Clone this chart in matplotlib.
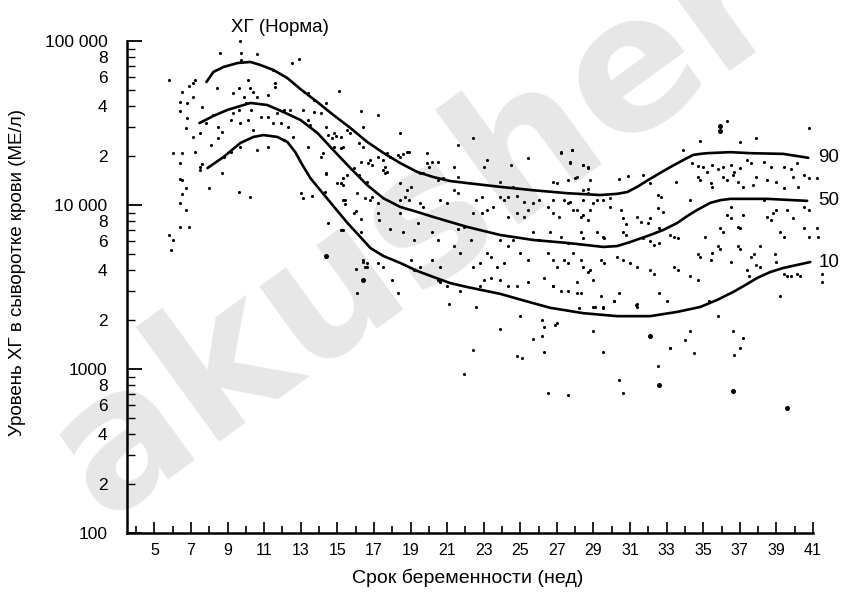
import math
import matplotlib
matplotlib.use('Agg')
import matplotlib.pyplot as plt
from matplotlib.ticker import FixedLocator, FuncFormatter

plt.rcParams['font.family'] = ['Liberation Sans', 'DejaVu Sans']

# ---- percentile curves (weeks, IU/l) ----
p90_weeks = [7.84, 8.22, 8.77, 9.54, 10.25, 10.79, 11.50, 12.27, 12.98, 13.91, 14.78, 15.71, 16.64,
             17.51, 18.44, 19.37, 20.25, 21.17, 22.10, 23.91, 25.71, 27.57, 29.37, 30.30, 30.85,
             31.39, 31.99, 32.65, 33.31, 33.91, 34.45, 34.84, 35.22, 36.48, 37.57, 39.37, 40.74]
p90_vals = [56200, 64700, 69400, 73400, 74500, 71400, 66600, 59400, 50900, 42400, 35400, 29500, 24200,
            20800, 18000, 15900, 14800, 14000, 13600, 12900, 12300, 11800, 11500, 11700, 12000,
            12900, 14200, 15700, 17300, 18800, 20200, 20500, 20700, 21000, 20700, 20500, 19400]

p50_weeks = [7.46, 8.22, 8.99, 10.25, 11.17, 12.05, 12.98, 13.91, 14.78, 15.71, 16.64, 17.51, 18.44,
             19.37, 20.25, 21.17, 22.10, 23.91, 25.71, 27.57, 29.54, 30.30, 31.01, 32.10, 32.81,
             33.58, 34.13, 34.67, 35.38, 35.93, 36.48, 38.50, 40.68]
p50_vals = [31600, 34900, 38000, 41900, 40700, 36900, 33000, 27500, 21600, 16800, 13200, 11000, 9730,
            9070, 8450, 7880, 7350, 6560, 6120, 5870, 5550, 5620, 5950, 6560, 7040,
            7770, 8570, 9330, 10300, 10700, 10900, 10900, 10600]

p10_weeks = [7.90, 8.77, 9.70, 10.41, 10.96, 11.72, 12.27, 12.70, 13.03, 13.52, 14.07, 14.78, 15.55,
             16.26, 16.80, 17.51, 18.44, 19.37, 20.25, 21.17, 22.10, 23.91, 25.27, 26.64, 28.44,
             30.30, 32.10, 33.58, 34.84, 35.77, 36.64, 37.30, 37.95, 38.66, 39.37, 40.85]
p10_vals = [16800, 19600, 23900, 26000, 26700, 26000, 24200, 21000, 18000, 14600, 12300, 9860, 7770,
            6380, 5470, 4890, 4430, 3960, 3640, 3340, 3160, 2870, 2600, 2360, 2190,
            2100, 2100, 2230, 2390, 2640, 2950, 3250, 3590, 3900, 4130, 4490]

curve_labels = ['90', '50', '10']

# ---- individual measurements (weeks, IU/l) ----
dots_weeks = [
    9.7, 8.6, 9.75, 10.6, 9.75, 5.8, 6.5, 6.4, 6.9, 7.1, 7.2, 8.4, 9.3, 9.6, 10.1, 10.25, 10.4, 9.9, 11.2,
    11.6, 11.6, 10.6, 7.1, 7.6, 6.8, 6.4, 6.8, 6.7, 7.1, 6.5, 6.0, 7.2, 7.5, 7.5, 7.8, 8.2, 8.5, 8.7, 8.5,
    8.1, 9.2, 9.3, 9.6, 10.0, 10.3, 9.7, 10.1, 10.4, 10.8, 11.2, 11.5, 11.7, 12.1, 12.4, 11.9, 12.3, 12.6,
    12.1, 11.2, 10.6, 9.7, 9.2, 8.8, 8.7, 8.0, 9.6, 10.2, 11.5, 12.5, 12.9, 6.4, 6.5, 6.7, 6.4, 6.7, 6.4,
    6.9, 5.8, 6.0, 5.9, 7.6, 7.5, 6.4, 6.5,
    # 13-20 weeks
    15.1, 17.2, 16.3, 13.4, 13.7, 13.1, 13.7, 14.1, 14.4, 13.4, 13.5, 14.4, 14.8, 15.2, 14.5, 14.7, 14.9,
    14.8, 15.2, 15.3, 14.1, 14.2, 13.4, 14.4, 15.0, 15.3, 15.5, 16.3, 16.7, 16.8, 16.9, 17.5, 17.6, 17.7,
    16.6, 16.5, 16.8, 16.9, 17.2, 16.1, 18.4, 18.9, 18.4, 18.6, 19.9, 20.5, 16.2, 16.4, 15.5, 15.7, 16.4,
    17.7, 17.9, 17.2, 17.5, 17.6, 18.3, 18.8, 19.7, 19.9,
    13.0, 13.1, 13.6, 14.3, 14.4, 15.2, 15.3, 15.9, 16.2, 15.4, 15.4, 16.0, 16.3, 14.5, 15.3, 16.4, 16.5,
    16.6, 16.4, 16.0, 16.1,
    # 18-30 weeks
    21.6, 22.4, 21.4, 23.0, 23.2, 24.5, 25.4, 27.2, 27.8, 27.7, 28.4, 28.7, 28.1, 28.8, 23.9, 24.6, 27.0,
    27.6, 18.4, 19.0, 18.8, 19.5, 20.0, 20.2, 20.5, 20.8, 21.6, 18.4, 18.7, 18.9, 18.4, 19.5, 19.7, 20.6,
    21.0, 21.4, 21.6, 22.6, 22.9, 22.4, 22.9, 23.2, 23.5, 23.9, 24.1, 24.3, 24.8, 25.2, 25.4, 25.7, 26.0,
    26.5, 26.8, 27.6, 27.9, 28.4, 28.7, 29.0, 28.3, 28.7, 24.8, 25.2, 24.3, 18.6, 19.4, 19.2, 20.2, 20.5,
    19.0, 20.2, 20.6, 21.6, 21.9, 21.4, 21.7, 22.3, 22.4, 22.8, 23.2, 23.4, 23.0, 23.4, 23.9, 24.3, 23.7,
    24.1, 24.6, 25.0, 25.4, 25.7, 26.0, 26.5, 26.8, 27.0, 27.6, 27.9, 28.3, 28.7, 29.0, 23.9, 24.3, 24.8,
    25.4, 26.3, 26.8, 27.6, 28.1, 16.4, 16.6, 18.3, 17.2, 17.5, 18.0, 19.2, 19.5, 20.5, 20.6, 21.0, 21.7,
    22.8, 15.2, 16.3, 14.4, 15.9, 15.3, 17.2, 17.3, 17.9,
    # 26-41 weeks
    36.3, 40.8, 34.8, 37.0, 37.9, 27.2, 27.8, 27.7, 28.4, 28.7, 33.9, 34.4, 34.7, 35.0, 35.2, 35.5, 35.8,
    36.1, 36.5, 36.7, 37.0, 37.4, 37.6, 38.3, 38.7, 39.4, 39.8, 40.1, 40.5, 40.8, 41.2, 34.7, 34.8, 35.4,
    35.5, 36.1, 36.3, 36.6, 36.9, 37.2, 37.7, 37.9, 38.5, 39.0, 39.4, 39.9, 40.2, 31.7, 30.9, 30.4, 28.4,
    28.7, 29.2, 29.5, 29.9, 26.8, 28.0, 32.1, 32.5, 32.7, 32.5, 33.5, 32.8, 34.3, 32.1, 32.6, 27.4, 27.7,
    26.8, 27.1, 28.1, 28.4, 28.8, 29.9, 30.5, 30.6, 30.8, 31.4, 31.6, 32.0, 26.6, 27.2, 28.3, 28.4, 29.2,
    29.5, 29.6, 30.6, 30.8, 31.7, 33.2, 33.4, 33.6, 32.6, 32.1, 32.3, 35.1, 35.9, 36.1, 36.9, 37.0, 38.8,
    39.0, 39.2, 39.4, 38.3, 38.5, 38.7, 39.6, 39.9, 40.5, 40.8, 40.5, 40.8, 41.2, 41.3, 36.5, 36.3, 36.5,
    37.2, 35.8, 35.9, 36.9, 37.0, 37.6, 37.8, 38.1, 37.9, 38.1, 38.9, 39.0, 39.4, 39.6, 39.8, 40.1, 40.3,
    39.2, 41.5, 41.5, 36.5, 37.4, 37.5, 34.7, 34.8, 35.5, 35.4, 33.4, 33.6, 32.1, 32.3, 34.3, 34.7, 31.0,
    31.4, 30.3, 30.6, 29.4, 29.6, 28.4, 28.8, 27.4, 27.6, 26.8, 27.2, 28.1, 28.3, 29.4, 30.1, 30.4, 31.4,
    32.6, 33.0, 35.3, 29.0, 29.5, 31.4, 35.8, 27.0, 29.0, 34.3, 34.0, 36.6, 37.2, 37.0, 33.2,
    # low values
    29.5, 33.2, 34.5, 36.7, 32.5, 30.4, 27.6, 30.6, 21.1, 22.6, 25.0, 26.2, 26.3, 26.9, 23.9, 25.7, 26.2,
    28.2, 29.1, 29.5, 30.1, 31.3, 22.4, 26.3, 24.8, 25.1, 21.9, 26.5,
]
dots_vals = [
    100000, 84600, 84600, 83000, 77000, 58000, 49000, 42500, 53000, 55500, 58000, 52000, 48000, 52000,
    58000, 52000, 49000, 45500, 47000, 55500, 52500, 45500, 45500, 39600, 41900, 37400, 34000, 29500,
    26000, 20800, 20800, 21000, 17000, 27500, 31600, 35500, 29800, 27900, 25600, 23200, 33000, 36400,
    38000, 41900, 38000, 31600, 33000, 28700, 34400, 34400, 31600, 36400, 38000, 38000, 31600, 29800,
    26000, 24900, 22600, 21700, 22600, 21000, 19600, 15700, 12700, 12000, 11200, 66500, 73400, 77600,
    18100, 14200, 12700, 10300, 9300, 7300, 7300, 6600, 6100, 5300, 17800, 16300, 14400, 11700,
    # 13-20 weeks
    49600, 35500, 37400, 48200, 43700, 38000, 36900, 36400, 41900, 33000, 30800, 29800, 27500, 26000,
    26800, 25600, 26400, 22600, 22300, 22600, 19600, 20800, 22600, 15700, 13600, 13200, 15200, 18300,
    18100, 18800, 17600, 16400, 15700, 16000, 13800, 11100, 10700, 11200, 10300, 11800, 27500, 21000,
    19600, 20500, 18100, 18300, 23900, 22600, 28700, 27500, 29800, 20800, 19600, 19600, 18800, 17100,
    20200, 21000, 15700, 20800,
    11800, 11000, 11400, 12000, 15500, 13600, 14600, 16800, 15200, 10700, 10200, 9200, 8200, 7800, 7000,
    4500, 4200, 4400, 3500, 4100, 2900,
    # 18-30 weeks
    23200, 25600, 17100, 17100, 18800, 17600, 19300, 20800, 21700, 18100, 17600, 17100, 14900, 14200,
    13800, 12900, 13600, 14200, 13600, 12900, 12400, 15700, 17100, 18300, 14200, 14600, 14900, 10700,
    11200, 10700, 8900, 10300, 9700, 10700, 10300, 12300, 11800, 10700, 11200, 8900, 8900, 9300, 9700,
    11200, 10700, 11200, 11400, 10500, 9300, 10300, 10700, 9700, 10700, 10300, 9300, 10700, 11800,
    10300, 8500, 8100, 8900, 8500, 8500, 6800, 7800, 6100, 6800, 6100, 4600, 4600, 4200, 7100, 7300,
    5600, 5100, 6100, 4200, 4400, 5100, 4800, 3500, 3600, 6100, 5600, 4200, 4400, 6100, 5100, 4600,
    6800, 6100, 5100, 4600, 4200, 5900, 5100, 4600, 3900, 3500, 3500, 3200, 3200, 3400, 3600, 3200,
    3000, 2900, 4600, 4200, 2900, 4400, 4200, 3500, 4000, 4200, 3500, 3400, 3200, 3000, 3200, 7000,
    6800, 4800, 8900, 10700, 8900, 8100, 7100,
    # 26-41 weeks
    32500, 29500, 24600, 24300, 25600, 21000, 21700, 18300, 17600, 16900, 21700, 18100, 17300, 17100,
    15900, 17600, 16500, 17100, 17600, 15900, 16900, 18800, 18100, 18300, 17100, 17100, 16500, 18100,
    15200, 14600, 14600, 14900, 14200, 13600, 12900, 14900, 14200, 15200, 13800, 12900, 13200, 14900,
    14200, 13800, 12700, 14900, 12900, 15200, 15000, 14400, 12400, 12600, 10700, 10700, 11000, 13800,
    14700, 13600, 11500, 11200, 9600, 13800, 9100, 10700, 8300, 7200, 10700, 10500, 8900, 8500, 9300,
    8700, 9300, 9700, 9300, 8300, 7700, 8500, 7900, 7800, 6800, 6400, 6800, 6300, 6800, 6400, 6300,
    6800, 6600, 6300, 6600, 6400, 6300, 5900, 6000, 5700, 6400, 7200, 6800, 7300, 7200, 8900, 9300,
    6800, 6400, 10700, 8500, 8100, 9300, 8300, 9700, 9300, 7200, 6400, 7200, 6400, 9700, 8700, 8300,
    8700, 5600, 5400, 5600, 5400, 4800, 5000, 5600, 4300, 4200, 5000, 4500, 3800, 3700, 3700, 3800,
    3700, 2800, 3800, 3400, 4500, 4000, 3700, 5000, 4800, 5100, 4600, 4200, 4000, 4000, 3800, 3700,
    3500, 4400, 4200, 4800, 4600, 4600, 4400, 4200, 4000, 4600, 4400, 3200, 3000, 3400, 2900, 2800,
    2600, 2900, 2500, 2900, 2600, 2600, 2400, 2400, 2400, 2100, 1900, 1700, 1700, 1500, 1700, 1550,
    1350, 1350,
    # low values
    1270, 1340, 1250, 1220, 1050, 860, 690, 710, 2500, 2400, 2100, 2000, 1800, 1850, 1750, 1530, 1600,
    2350, 2400, 2350, 2600, 2450, 1300, 1270, 1200, 1160, 930, 710,
]

# a few heavier dots
big_weeks = [35.9, 35.9, 32.6, 36.6, 39.6, 32.1, 14.4, 16.4]
big_vals = [30300, 28300, 800, 730, 580, 1600, 4900, 3500]

x_major = list(range(5, 42, 2))
x_minor = list(range(4, 41, 2))
y_major = [100, 1000, 10000, 100000]
y_major_labels = ['100', '1000', '10 000', '100 000']

title = 'ХГ (Норма)'
xlabel = 'Срок беременности (нед)'
ylabel = 'Уровень ХГ в сыворотке крови (МЕ/л)'

fig = plt.figure(figsize=(8.42, 5.96), dpi=100)
fig.patch.set_facecolor('white')

# watermark (behind the chart)
fig.text(0.495, 0.615, 'akusher', rotation=36, fontsize=135, color='#e7e7e7',
         ha='center', va='center', zorder=-10, fontweight='bold', family='DejaVu Sans')

ax = fig.add_axes([127 / 842, 1 - 533 / 596, (813 - 127) / 842, (533 - 41) / 596])
ax.set_zorder(2)
ax.patch.set_alpha(0)
ax.set_yscale('log')
ax.set_xlim(3.5, 41)
ax.set_ylim(100, 100000)

ax.scatter(dots_weeks, dots_vals, s=5, color='black', linewidths=0, zorder=3, clip_on=False)
ax.scatter(big_weeks, big_vals, s=13, color='black', linewidths=0, zorder=3, clip_on=False)

for wk, vals, lab in zip([p90_weeks, p50_weeks, p10_weeks], [p90_vals, p50_vals, p10_vals], curve_labels):
    ax.plot(wk, vals, color='black', lw=1.9, solid_capstyle='round', solid_joinstyle='round', zorder=4)
    ax.text(41.3, vals[-1], lab, fontsize=13.5, ha='left', va='center', clip_on=False)

for s in ['top', 'right']:
    ax.spines[s].set_visible(False)
for s in ['left', 'bottom']:
    ax.spines[s].set_linewidth(1.8)

ax.xaxis.set_major_locator(FixedLocator(x_major))
ax.xaxis.set_minor_locator(FixedLocator(x_minor))
ax.set_xticklabels([str(v) for v in x_major])
ax.tick_params(axis='x', which='major', direction='in', length=8, width=1.2, labelsize=11.5, pad=7)
ax.tick_params(axis='x', which='minor', direction='in', length=5, width=1.2)

major_map = dict(zip(y_major, y_major_labels))
ax.yaxis.set_major_locator(FixedLocator(y_major))
ax.yaxis.set_major_formatter(FuncFormatter(lambda v, p: major_map.get(int(round(v)), '')))
minor_locs = [m * 10 ** d for d in (2, 3, 4) for m in range(2, 10)]
ax.yaxis.set_minor_locator(FixedLocator(minor_locs))


def minor_fmt(v, p):
    m = int(round(v / 10 ** math.floor(math.log10(v) + 1e-9)))
    return str(m) if m in (2, 4, 6, 8) else ''


ax.yaxis.set_minor_formatter(FuncFormatter(minor_fmt))
ax.tick_params(axis='y', which='major', direction='in', length=11, width=1.3, labelsize=12.5, pad=14)
ax.tick_params(axis='y', which='minor', direction='in', length=6, width=1.0, labelsize=12.5, pad=14)

fig.text(280 / 842, 1 - 27 / 596, title, fontsize=13.5, ha='center', va='center')
fig.text(468 / 842, 1 - 578 / 596, xlabel, fontsize=14, ha='center', va='center')
fig.text(18 / 842, 1 - 272 / 596, ylabel, fontsize=13.5, ha='center', va='center', rotation=90)

fig.savefig('out.png', dpi=100)
